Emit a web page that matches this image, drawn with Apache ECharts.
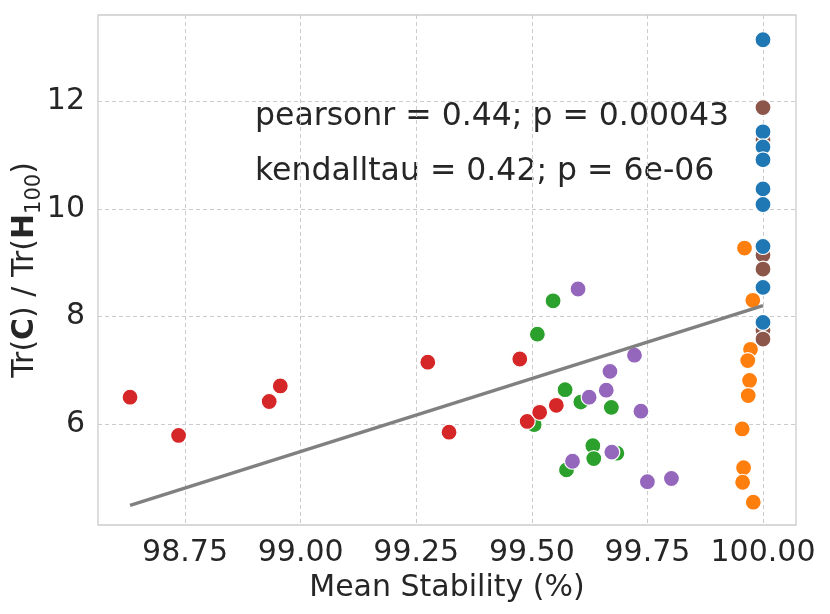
<!DOCTYPE html>
<html>
<head>
<meta charset="utf-8">
<script src="https://cdn.jsdelivr.net/npm/echarts@6/dist/echarts.min.js"></script>
<style>
  html, body { margin: 0; padding: 0; background: #fff; }
  #chart_main { width: 830px; height: 614px; }
</style>
</head>
<body>
<div id="chart_main"></div>
<script>
// values
var xTicks = [98.75, 99.00, 99.25, 99.50, 99.75, 100.00];
var yTicks = [6, 8, 10, 12];

var brownX = [100.0, 100.0, 100.0, 100.0, 100.0, 100.0];
var brownY = [11.88, 11.28, 9.14, 8.88, 7.75, 7.58];

var greenX = [99.546, 99.512, 99.572, 99.606, 99.672, 99.505, 99.632, 99.634, 99.575, 99.684];
var greenY = [8.29, 7.67, 6.64, 6.41, 6.31, 5.99, 5.60, 5.36, 5.15, 5.46];

var redX = [98.631, 98.736, 98.932, 98.956, 99.275, 99.321, 99.474, 99.490, 99.517, 99.553];
var redY = [6.50, 5.79, 6.42, 6.71, 7.15, 5.85, 7.21, 6.05, 6.22, 6.35];

var purpleX = [99.600, 99.722, 99.669, 99.661, 99.624, 99.736, 99.673, 99.588, 99.750, 99.802];
var purpleY = [8.51, 7.28, 6.98, 6.63, 6.50, 6.24, 5.48, 5.31, 4.93, 4.99];

var orangeX = [99.960, 99.978, 99.973, 99.967, 99.971, 99.968, 99.955, 99.958, 99.956, 99.979];
var orangeY = [9.27, 8.30, 7.39, 7.18, 6.81, 6.53, 5.91, 5.19, 4.92, 4.55];

var blueX = [100.0, 100.0, 100.0, 100.0, 100.0, 100.0, 100.0, 100.0, 100.0];
var blueY = [13.14, 11.43, 11.15, 10.91, 10.37, 10.08, 9.30, 8.54, 7.89];

// ends of the fitted line
var fitX = [98.631, 100.0];
var fitY = [4.49, 8.20];

var statLines = ['pearsonr = 0.44; p = 0.00043', 'kendalltau = 0.42; p = 6e-06'];

function pairUp(xs, ys){
	return xs.map(function(x, i){ return [x, ys[i]]; });
}

function dotSeries(xs, ys, color){
	return {
		type : 'scatter',
		data : pairUp(xs, ys),
		symbolSize : 16,
		itemStyle : {
			color : color,
			borderColor : '#ffffff',
			borderWidth : 1.2,
			opacity : 1
		},
		emphasis : { disabled : true },
		z : 3
	};
}

var myChart = echarts.init(document.getElementById('chart_main'));
var font = 'DejaVu Sans',
	ink  = '#262626',
	gridLine = {
		show : true,
		lineStyle : { color : '#cccccc', type : [4, 3], width : 1 }
	};

var option = {
	animation : false,
	backgroundColor : '#ffffff',
	grid : {
		left : 98, right : 34, top : 15, bottom : 89,
		outerBoundsMode : 'none',
		containLabel : false,
		show : true,
		borderColor : '#cccccc',
		borderWidth : 1.3,
		backgroundColor : 'transparent'
	},
	xAxis : {
		type : 'value',
		min : 98.5617,
		max : 100.0714,
		name : 'Mean Stability (%)',
		nameLocation : 'middle',
		nameGap : 48,
		nameMoveOverlap : false,
		nameTextStyle : { fontFamily : font, fontSize : 30, color : ink },
		axisLine : { show : false },
		axisTick : { show : false, customValues : xTicks },
		axisLabel : {
			customValues : xTicks,
			fontFamily : font, fontSize : 30, color : ink, margin : 13,
			formatter : function(v){ return v.toFixed(2); }
		},
		splitLine : gridLine
	},
	yAxis : {
		type : 'value',
		min : 4.126,
		max : 13.6,
		name : '{n|Tr(}{b|C}{n|) / Tr(}{b|H}{s|100}{n|)}',
		nameLocation : 'middle',
		nameRotate : 90,
		nameGap : 53,
		nameMoveOverlap : false,
		nameTextStyle : {
			fontFamily : font, fontSize : 30, color : ink,
			rich : {
				n : { fontFamily : font, fontSize : 30, color : ink, lineHeight : 40 },
				b : { fontFamily : font, fontSize : 30, color : ink, fontWeight : 'bold', lineHeight : 40 },
				s : { fontFamily : font, fontSize : 21, color : ink, lineHeight : 21, verticalAlign : 'bottom' }
			}
		},
		axisLine : { show : false },
		axisTick : { show : false, customValues : yTicks },
		axisLabel : {
			customValues : yTicks,
			fontFamily : font, fontSize : 30, color : ink, margin : 13
		},
		splitLine : gridLine
	},
	graphic : [
		{ type : 'text', left : 255, top : 101,
		  style : { text : statLines[0], font : '31.5px "DejaVu Sans"', fill : ink } },
		{ type : 'text', left : 255, top : 156,
		  style : { text : statLines[1], font : '31.5px "DejaVu Sans"', fill : ink } }
	],
	series : [
		dotSeries(brownX, brownY, '#8c564b'),
		dotSeries(greenX, greenY, '#2ca02c'),
		dotSeries(redX, redY, '#d62728'),
		dotSeries(purpleX, purpleY, '#9467bd'),
		dotSeries(orangeX, orangeY, '#ff7f0e'),
		dotSeries(blueX, blueY, '#1f77b4'),
		{
			type : 'line',
			data : pairUp(fitX, fitY),
			showSymbol : false,
			lineStyle : { color : '#808080', width : 3.5 },
			emphasis : { disabled : true },
			z : 4
		}
	]
};

myChart.setOption(option);
</script>
</body>
</html>
